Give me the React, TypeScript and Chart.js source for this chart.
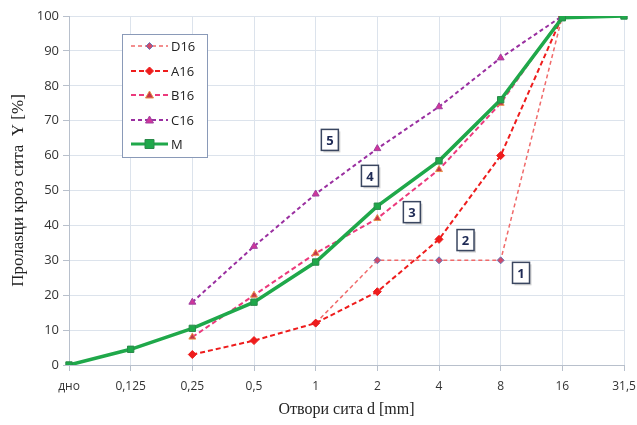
import React, { useEffect, useRef } from "react";
import { Chart, registerables } from "chart.js";

Chart.register(...registerables);

const categories = ["дно", "0,125", "0,25", "0,5", "1", "2", "4", "8", "16", "31,5"];
const seriesD16 = [null, null, null, null, 12, 30, 30, 30, 100, null];
const seriesA16 = [null, null, 3, 7, 12, 21, 36, 60, 100, null];
const seriesB16 = [null, null, 8, 20, 32, 42, 56, 75, 100, null];
const seriesC16 = [null, null, 18, 34, 49, 62, 74, 88, 100, null];
const seriesM = [0, 4.5, 10.5, 18, 29.5, 45.5, 58.5, 76, 99.5, 100];
const zoneLabels = ["1", "2", "3", "4", "5"];
const zoneX = [7.33, 6.43, 5.56, 4.88, 4.23];
const zoneY = [26.4, 35.8, 43.8, 54.2, 64.5];
const legendNames = ["D16", "A16", "B16", "C16", "M"];
const yTitle = "Пролаѕци кроз сита  Y [%]";
const xTitle = "Отвори сита d [mm]";

const COL_D = "#f06a6a";
const COL_A = "#ee1c1c";
const COL_B = "#ec3a7c";
const COL_C = "#9a2fa0";
const COL_M = "#1fa84a";

function drawMarker(ctx: CanvasRenderingContext2D, style: string, x: number, y: number, r: number, fill: string, stroke: string) {
  ctx.save();
  ctx.fillStyle = fill;
  ctx.strokeStyle = stroke;
  ctx.lineWidth = 1;
  ctx.setLineDash([]);
  ctx.beginPath();
  if (style === "rect") {
    ctx.rect(x - r, y - r, 2 * r, 2 * r);
  } else if (style === "rectRot") {
    ctx.moveTo(x, y - r);
    ctx.lineTo(x + r, y);
    ctx.lineTo(x, y + r);
    ctx.lineTo(x - r, y);
    ctx.closePath();
  } else if (style === "triangle") {
    ctx.moveTo(x, y - r);
    ctx.lineTo(x + r, y + r * 0.75);
    ctx.lineTo(x - r, y + r * 0.75);
    ctx.closePath();
  } else {
    ctx.arc(x, y, r, 0, Math.PI * 2);
  }
  ctx.fill();
  ctx.stroke();
  ctx.restore();
}

const legendStyles = [
  { color: COL_D, dash: [4, 3], width: 1.5, point: "rectRot", r: 3.5, fill: "#d04a6a", stroke: "#6a78b8" },
  { color: COL_A, dash: [5, 3], width: 2, point: "rectRot", r: 4, fill: COL_A, stroke: COL_A },
  { color: COL_B, dash: [5, 3], width: 2, point: "triangle", r: 4, fill: "#c8324a", stroke: "#e8904a" },
  { color: COL_C, dash: [4, 3], width: 2, point: "triangle", r: 4, fill: "#d0359a", stroke: "#a040a0" },
  { color: COL_M, dash: [], width: 3, point: "rect", r: 4.5, fill: COL_M, stroke: "#2a8a4a" },
];

const overlayPlugin = {
  id: "overlay",
  afterDatasetsDraw(chart: any) {
    const ctx = chart.ctx as CanvasRenderingContext2D;
    const xs = chart.scales.x;
    const ys = chart.scales.y;
    ctx.save();
    zoneLabels.forEach((t, i) => {
      const x = xs.getPixelForValue(zoneX[i]);
      const y = ys.getPixelForValue(zoneY[i]);
      const w = 17, h = 21;
      ctx.fillStyle = "rgba(0,0,0,0.18)";
      ctx.fillRect(x - w / 2 + 2, y - h / 2 + 2, w, h);
      ctx.fillStyle = "#ffffff";
      ctx.fillRect(x - w / 2, y - h / 2, w, h);
      ctx.strokeStyle = "#3a4660";
      ctx.lineWidth = 1.5;
      ctx.strokeRect(x - w / 2, y - h / 2, w, h);
      ctx.fillStyle = "#1e2a55";
      ctx.font = "bold 13px 'Open Sans', sans-serif";
      ctx.textAlign = "center";
      ctx.textBaseline = "middle";
      ctx.fillText(t, x, y + 1);
    });
    const bx = 122, by = 34, bw = 85, bh = 123;
    ctx.fillStyle = "#ffffff";
    ctx.fillRect(bx, by, bw, bh);
    ctx.strokeStyle = "#8a9ab8";
    ctx.lineWidth = 1;
    ctx.strokeRect(bx + 0.5, by + 0.5, bw, bh);
    const rows = [46, 71, 95, 120, 144];
    legendNames.forEach((name, i) => {
      const s = legendStyles[i];
      const y = rows[i];
      ctx.save();
      ctx.strokeStyle = s.color;
      ctx.lineWidth = s.width;
      ctx.setLineDash(s.dash);
      ctx.beginPath();
      ctx.moveTo(131, y);
      ctx.lineTo(168, y);
      ctx.stroke();
      ctx.restore();
      drawMarker(ctx, s.point, 149.5, y, s.r, s.fill, s.stroke);
      ctx.fillStyle = "#222222";
      ctx.font = "13px 'Open Sans', sans-serif";
      ctx.textAlign = "left";
      ctx.textBaseline = "middle";
      ctx.fillText(name, 171, y + 1);
    });
    ctx.restore();
  },
};

export default function App() {
  const ref = useRef<HTMLCanvasElement | null>(null);
  useEffect(() => {
    document.body.style.margin = "0";
    const canvas = ref.current!;
    const chart = new Chart(canvas, {
      type: "line",
      data: {
        labels: categories,
        datasets: [
          {
            label: "M",
            data: seriesM,
            borderColor: COL_M,
            backgroundColor: COL_M,
            borderWidth: 3.5,
            pointStyle: "rect",
            pointRadius: 4.5,
            pointBackgroundColor: COL_M,
            pointBorderColor: "#2a8a4a",
            pointBorderWidth: 1,
            order: 0,
          },
          {
            label: "C16",
            data: seriesC16,
            borderColor: COL_C,
            borderWidth: 2,
            borderDash: [4, 3],
            pointStyle: "triangle",
            pointRadius: 4,
            pointBackgroundColor: "#d0359a",
            pointBorderColor: "#a040a0",
            pointBorderWidth: 1,
            order: 1,
          },
          {
            label: "B16",
            data: seriesB16,
            borderColor: COL_B,
            borderWidth: 2,
            borderDash: [5, 3],
            pointStyle: "triangle",
            pointRadius: 4,
            pointBackgroundColor: "#c8324a",
            pointBorderColor: "#e8904a",
            pointBorderWidth: 1,
            order: 2,
          },
          {
            label: "A16",
            data: seriesA16,
            borderColor: COL_A,
            borderWidth: 2,
            borderDash: [5, 3],
            pointStyle: "rectRot",
            pointRadius: 4,
            pointBackgroundColor: COL_A,
            pointBorderColor: COL_A,
            pointBorderWidth: 1,
            order: 3,
          },
          {
            label: "D16",
            data: seriesD16,
            borderColor: COL_D,
            borderWidth: 1.5,
            borderDash: [4, 3],
            pointStyle: "rectRot",
            pointRadius: 3.5,
            pointBackgroundColor: "#d04a6a",
            pointBorderColor: "#6a78b8",
            pointBorderWidth: 1,
            order: 4,
          },
        ],
      },
      options: {
        animation: false,
        responsive: false,
        maintainAspectRatio: false,
        layout: { padding: { left: 0, right: 13, top: 16, bottom: 0 } },
        plugins: {
          legend: { display: false },
          tooltip: { enabled: false },
        },
        scales: {
          x: {
            type: "category",
            offset: false,
            afterFit: (s: any) => { s.height = 60; s.paddingRight = 0; s.paddingLeft = 0; },
            grid: { color: "#dce3ec", tickLength: 6, drawTicks: true, tickColor: "#b8c0cc" },
            border: { color: "#b8c0cc" },
            ticks: {
              color: "#333333",
              font: { family: "'Open Sans', sans-serif", size: 12 },
              padding: 8,
              maxRotation: 0,
              autoSkip: false,
            },
            title: {
              display: true,
              text: xTitle,
              color: "#222222",
              font: { family: "'Liberation Serif', serif", size: 16 },
              padding: { top: 4, bottom: 6 },
            },
          },
          y: {
            min: 0,
            max: 100,
            afterFit: (s: any) => { s.width = 69; s.paddingTop = 0; s.paddingBottom = 0; },
            grid: { color: "#dce3ec", tickLength: 6, tickColor: "#b8c0cc" },
            border: { color: "#b8c0cc" },
            ticks: {
              stepSize: 10,
              color: "#333333",
              font: { family: "'Open Sans', sans-serif", size: 13 },
              padding: 4,
            },
            title: {
              display: true,
              text: yTitle,
              color: "#222222",
              font: { family: "'Liberation Serif', serif", size: 17 },
              padding: { top: 8, bottom: 2 },
            },
          },
        },
      },
      plugins: [overlayPlugin],
    } as any);
    return () => chart.destroy();
  }, []);
  return (
    <div style={{ position: "absolute", left: 0, top: 0, width: 637, height: 425 }}>
      <canvas ref={ref} width={637} height={425} style={{ width: 637, height: 425 }} />
    </div>
  );
}
